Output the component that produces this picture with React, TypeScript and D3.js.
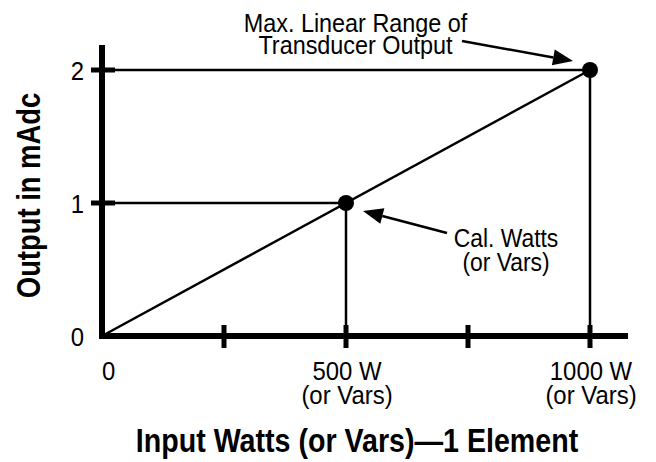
import React from 'react';
import * as d3 from 'd3';

const xTickValues = [250, 500, 750, 1000];
const yTickValues = [1, 2];
const yTickLabels = [0, 1, 2];
const xTickLabels = [
  { value: 0, lines: ['0'] },
  { value: 500, lines: ['500 W', '(or Vars)'] },
  { value: 1000, lines: ['1000 W', '(or Vars)'] },
];
const calPoints = [
  { watts: 500, mA: 1 },
  { watts: 1000, mA: 2 },
];
const xTitle = 'Input Watts (or Vars)—1 Element';
const yTitle = 'Output in mAdc';
const noteMax = ['Max. Linear Range of', 'Transducer Output'];
const noteCal = ['Cal. Watts', '(or Vars)'];

const FONT = '"Liberation Sans", Arial, sans-serif';

function Arrow({ x1, y1, x2, y2 }: { x1: number; y1: number; x2: number; y2: number }) {
  const dx = x2 - x1;
  const dy = y2 - y1;
  const len = Math.sqrt(dx * dx + dy * dy);
  const ux = dx / len;
  const uy = dy / len;
  const hl = 20;
  const hw = 8;
  const bx = x2 - ux * hl;
  const by = y2 - uy * hl;
  const px = -uy;
  const py = ux;
  const pts = [
    [x2, y2],
    [bx + px * hw, by + py * hw],
    [bx - px * hw, by - py * hw],
  ];
  return (
    <g>
      <line x1={x1} y1={y1} x2={bx} y2={by} stroke="#000" strokeWidth={2.5} />
      <polygon points={pts.map((p) => p.join(',')).join(' ')} fill="#000" />
    </g>
  );
}

function Label({
  x,
  y,
  text,
  size,
  sx,
  anchor = 'middle',
}: {
  x: number;
  y: number;
  text: string;
  size: number;
  sx: number;
  anchor?: string;
}) {
  return (
    <text transform={`translate(${x},${y}) scale(${sx},1)`} textAnchor={anchor} fontSize={size}>
      {text}
    </text>
  );
}

export default function App() {
  const x = d3.scaleLinear().domain([0, 1000]).range([102, 590]);
  const y = d3.scaleLinear().domain([0, 2]).range([336, 70]);
  const line = d3
    .line<{ watts: number; mA: number }>()
    .x((d) => x(d.watts))
    .y((d) => y(d.mA));
  const diag = [{ watts: 0, mA: 0 }, calPoints[calPoints.length - 1]];

  const pMax = calPoints[1];
  const pCal = calPoints[0];

  return (
    <svg
      width={656}
      height={462}
      style={{ position: 'absolute', left: 0, top: 0, background: '#fff' }}
      fontFamily={FONT}
    >
      <rect width={656} height={462} fill="#fff" />
      {/* guide lines */}
      {calPoints.map((p, i) => (
        <g key={i}>
          <line x1={x(0)} y1={y(p.mA)} x2={x(p.watts)} y2={y(p.mA)} stroke="#000" strokeWidth={2.5} />
          <line x1={x(p.watts)} y1={y(p.mA)} x2={x(p.watts)} y2={y(0)} stroke="#000" strokeWidth={2.5} />
        </g>
      ))}
      <path d={line(diag) || ''} stroke="#000" strokeWidth={2.5} fill="none" />

      {/* axes */}
      <line x1={x(0)} y1={45} x2={x(0)} y2={y(0) + 3} stroke="#000" strokeWidth={6} />
      <line x1={x(0) - 3} y1={y(0)} x2={628} y2={y(0)} stroke="#000" strokeWidth={6} />
      {yTickValues.map((v) => (
        <line key={v} x1={x(0) - 11} y1={y(v)} x2={x(0) + 13} y2={y(v)} stroke="#000" strokeWidth={5} />
      ))}
      {xTickValues.map((v) => (
        <line key={v} x1={x(v)} y1={y(0) - 11} x2={x(v)} y2={y(0) + 12} stroke="#000" strokeWidth={5} />
      ))}

      {/* tick labels */}
      {yTickLabels.map((v) => (
        <Label key={v} x={84} y={y(v) + 9.5} text={String(v)} size={26} sx={0.92} anchor="end" />
      ))}
      {xTickLabels.map((t) =>
        t.lines.map((l, i) => (
          <Label
            key={`${t.value}-${i}`}
            x={t.value === 0 ? x(t.value) : x(t.value) + 1}
            y={380 + i * 24}
            text={l}
            size={26}
            sx={0.92}
            anchor={t.value === 0 ? 'start' : 'middle'}
          />
        ))
      )}

      {/* points */}
      {calPoints.map((p, i) => (
        <circle key={i} cx={x(p.watts)} cy={y(p.mA)} r={8} fill="#000" />
      ))}

      {/* annotations */}
      {noteMax.map((l, i) => (
        <Label key={i} x={355.5} y={32 + i * 22} text={l} size={26} sx={0.9} />
      ))}
      <Arrow x1={462} y1={41} x2={x(pMax.watts) - 17} y2={y(pMax.mA) - 9} />

      {noteCal.map((l, i) => (
        <Label key={i} x={506} y={247 + i * 23.5} text={l} size={26} sx={0.88} />
      ))}
      <Arrow x1={447} y1={233} x2={x(pCal.watts) + 17} y2={y(pCal.mA) + 8} />

      {/* titles */}
      <text
        transform="translate(357,452) scale(0.867,1)"
        textAnchor="middle"
        fontSize={33}
        fontWeight="bold"
      >
        {xTitle}
      </text>
      <text
        transform="translate(40,195.5) rotate(-90) scale(0.83,1)"
        textAnchor="middle"
        fontSize={33}
        fontWeight="bold"
      >
        {yTitle}
      </text>
    </svg>
  );
}
